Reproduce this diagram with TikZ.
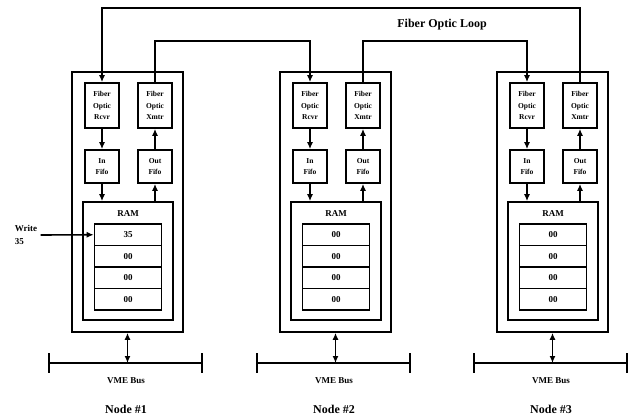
\documentclass[tikz,border=0pt]{standalone}
\usepackage{fontspec}
\setmainfont{Liberation Serif}
\usepackage{tikz}
\usetikzlibrary{arrows.meta}

\tikzset{
  box/.style = {draw, line width=1.6pt, inner sep=0pt, align=center,
                font=\fontsize{7.5}{11.5}\selectfont\bfseries},
  unit/.style = {box, minimum width=34pt, minimum height=45pt},
  fifo/.style = {box, minimum width=34pt, minimum height=33pt},
  cell/.style = {box, minimum width=67pt, minimum height=21.5pt, font=\fontsize{9}{10}\selectfont\bfseries},
  lbl/.style = {font=\fontsize{9}{13}\selectfont\bfseries, align=left},
  big/.style = {font=\fontsize{12}{14}\selectfont\bfseries},
  arr/.style = {line width=1.6pt, -{Latex[length=7pt,width=6pt]}}
}

\begin{document}
\begin{tikzpicture}[x=1pt, y=-1pt]
  \useasboundingbox (0,0) rectangle (629,420);
  \foreach \i/\ox in {1/72, 2/280, 3/497}
  {
    \node[box, minimum width=111pt, minimum height=260pt] (outer\i) at (\ox+55.5, 202) {};
    \node[unit] (rcvr\i) at (\ox+30, 105.5) {Fiber\\Optic\\Rcvr};
    \node[unit] (xmtr\i) at (\ox+83, 105.5) {Fiber\\Optic\\Xmtr};
    \node[fifo] (infifo\i) at (\ox+30, 166.5) {In\\Fifo};
    \node[fifo] (outfifo\i) at (\ox+83, 166.5) {Out\\Fifo};
    \node[box, minimum width=90pt, minimum height=118pt] (ram\i) at (\ox+56, 261) {};
    \node[lbl] (ramlbl\i) at (\ox+56, 214) {RAM};
    \foreach \k in {1,...,4}
      \node[cell] (cell\i\k) at (\ox+56, 213.25+\k*21.5) {00};
    \draw[arr] (rcvr\i) -- (infifo\i);
    \draw[arr] (outfifo\i) -- (xmtr\i);
    \draw[arr] (infifo\i) -- (infifo\i |- ram\i.north);
    \draw[arr] (outfifo\i |- ram\i.north) -- (outfifo\i);
    \coordinate (busL\i) at (\ox-23, 363);
    \coordinate (busR\i) at (\ox+130, 363);
    \draw[line width=1.6pt] (busL\i) -- (busR\i);
    \draw[line width=1.6pt] (busL\i) ++(0,-10) -- ++(0,20);
    \draw[line width=1.6pt] (busR\i) ++(0,-10) -- ++(0,20);
    \draw[arr, {Latex[length=7pt,width=6pt]}-{Latex[length=7pt,width=6pt]}] (outer\i.south) -- (outer\i.south |- busL\i);
    \node[lbl] (bus\i) at (\ox+54, 381) {VME Bus};
    \node[big] (name\i) at (\ox+54, 409) {Node \#\i};
  }
  \node[cell, fill=white] at (cell11) {35};
  \node[lbl] (write) at (26, 235) {Write\\35};
  \draw[arr] (write.east) -- (cell11.west);

  \coordinate (looptop) at (0, 8);
  \coordinate (loopmid) at (0, 41);
  \draw[arr] (xmtr3.north) -- (xmtr3.north |- looptop) -- (rcvr1.north |- looptop) -- (rcvr1.north);
  \draw[arr] (xmtr1.north) -- (xmtr1.north |- loopmid) -- (rcvr2.north |- loopmid) -- (rcvr2.north);
  \draw[arr] (xmtr2.north) -- (xmtr2.north |- loopmid) -- (rcvr3.north |- loopmid) -- (rcvr3.north);
  \node[big] (looplbl) at (442, 25) {Fiber Optic Loop};
\end{tikzpicture}
\end{document}
